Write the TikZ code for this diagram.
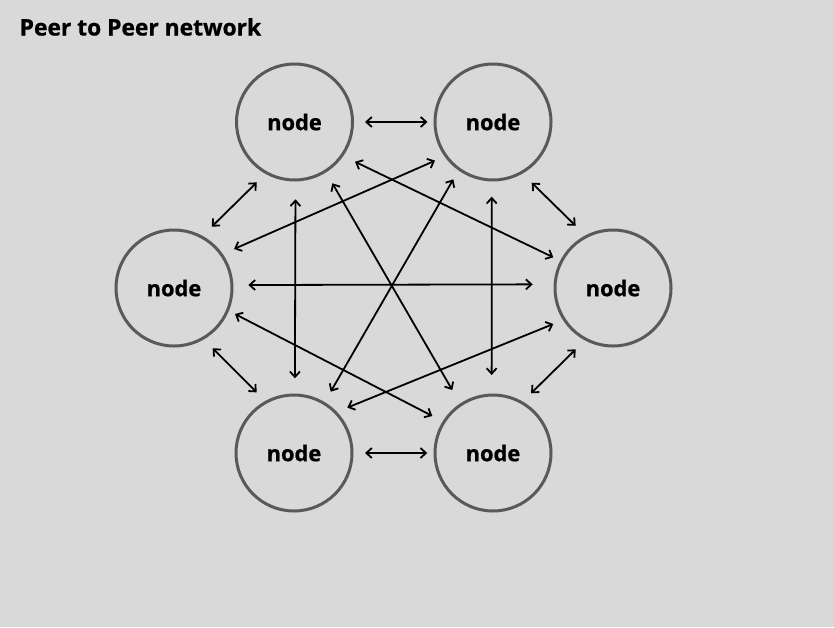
\documentclass[tikz,border=0pt]{standalone}
\usepackage{fontspec}
\setmainfont{Open Sans}[BoldFeatures={FakeBold=0.8}]
\usetikzlibrary{arrows.meta,calc}
\definecolor{bg}{HTML}{D9D9D9}
\definecolor{ring}{HTML}{595959}
\begin{document}
\begin{tikzpicture}[x=1pt,y=1pt,
  peer/.style={circle,draw=ring,line width=3pt,fill=bg,minimum size=116pt,inner sep=0pt,
    font=\fontsize{21.8}{25}\selectfont\bfseries,text=black},
  link/.style={draw=black,line width=1.8pt,
    {Straight Barb[length=5.5pt,width=10pt]}-{Straight Barb[length=5.5pt,width=10pt]}}]
\path[fill=bg] (0,0) rectangle (834,-627);
\useasboundingbox (0,0) rectangle (834,-627);
\node[anchor=base west,font=\fontsize{22.8}{27}\selectfont\bfseries,inner sep=0pt] (title) at (19.5,-35.5) {Peer to Peer network};
\node[peer] (tl) at (294.5,-122) {node};
\node[peer] (tr) at (493,-122) {node};
\node[peer] (l)  at (174,-288) {node};
\node[peer] (r)  at (613,-288) {node};
\node[peer] (bl) at (294,-453) {node};
\node[peer] (br) at (493,-453) {node};
% neighbours
\draw[link] ($(tl)+(0:70.5)$) -- ($(tr)+(180:65.5)$);
\draw[link] ($(bl)+(0:71)$) -- ($(br)+(180:65.7)$);
\draw[link] ($(tl)+(238:71.2)$) -- ($(l)+(58.4:72)$);
\draw[link] ($(l)+(-57.3:71.6)$) -- ($(bl)+(121.6:71.2)$);
\draw[link] ($(tr)+(-57.5:72)$) -- ($(r)+(121:72.6)$);
\draw[link] ($(r)+(-121.3:71.8)$) -- ($(br)+(57.5:70.8)$);
% long links
\draw[link] ($(l)+(2.3:74.4)$) -- ($(r)+(177.4:80.4)$);
\draw[link] ($(tl)+(-89.3:77.3)$) -- ($(bl)+(89.3:74.7)$);
\draw[link] ($(tr)+(-91:74.7)$) -- ($(br)+(91:78)$);
\draw[link] ($(tl)+(-33.3:72.4)$) -- ($(r)+(152.8:67.1)$);
\draw[link] ($(tr)+(213.7:69.7)$) -- ($(l)+(33:71.6)$);
\draw[link] ($(tl)+(-58.3:72)$) -- ($(br)+(122.9:75)$);
\draw[link] ($(tr)+(235.3:69.7)$) -- ($(bl)+(59.1:71.4)$);
\draw[link] ($(l)+(-23.1:66.3)$) -- ($(br)+(148.6:71.1)$);
\draw[link] ($(r)+(211.1:69.7)$) -- ($(bl)+(40.4:70)$);
\end{tikzpicture}
\end{document}
